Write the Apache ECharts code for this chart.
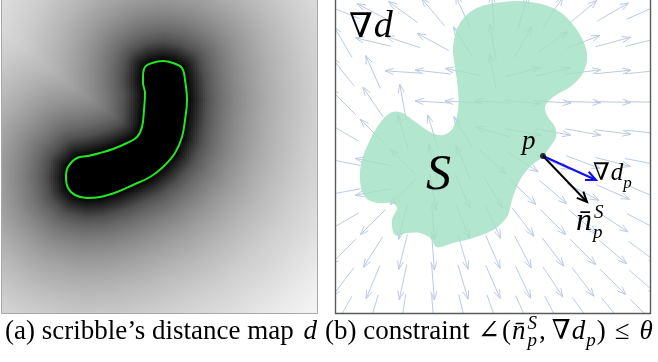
<!DOCTYPE html>
<html><head><meta charset="utf-8">
<script src="https://cdn.jsdelivr.net/npm/echarts@6/dist/echarts.min.js"></script>
<style>html,body{margin:0;padding:0;background:#fff}#c{width:658px;height:362px}</style>
</head><body><div id="c"></div>
<script>
// ---------- data ----------
// scribble outline (panel a, image px)
const scribbleX = [143,145,152,163,173,182,185,187,185,182,175,163,150,133,117,100,87,75,68,66,68,77,88,100,113,127,137,142,144,145,143];
const scribbleY = [77,67,63,61,63,68,80,100,120,137,153,167,177,185,192,197,198,195,188,177,167,158,156,153,149,143,137,127,110,93,83];
// region S outline (panel b, image px)
const regionX = [453,460,477,503,530,557,577,587,583,570,553,545,548,555,556,550,542,530,520,512,507,493,473,453,437,430,420,407,395,392,397,392,377,365,360,362,370,380,390,400,413,430,443,453,458,458,455];
const regionY = [47,23,8,2,2,10,30,53,73,87,97,107,117,127,137,147,157,167,180,200,217,230,238,243,247,238,233,233,235,220,208,203,203,197,180,160,140,123,113,112,120,132,135,128,110,90,67];
// grey ramp of the distance map: distance (px, step 10) -> grey level
const rampDist = [0,10,20,30,40,50,60,70,80,90,100,110,120,130,140,150,160,170,180,190,200,210,220];
const rampGray = [0,40,80,104,122,137,150,161,171,180,188,195,202,208,213,218,223,228,233,237,241,244,247];
// vector field sample centres (panel b)
const fieldCols = [343,373,403,433,463,493,523,553,583,613,643];
const fieldRows = [12,42,72,102,132,162,192,222,252,282,312];
// point p and its vectors
const pointP = [543,156];
const gradTip = [596,180];
const normalTip = [587,202];

// ---------- geometry helpers ----------
const PANEL_SHIFT = 334; // panel b x -> panel a x
function signedDist(px, py) {
  let d = Infinity, inside = false;
  const n = scribbleX.length;
  for (let i = 0, j = n - 1; i < n; j = i++) {
    const ax = scribbleX[j], ay = scribbleY[j], bx = scribbleX[i], by = scribbleY[i];
    const dx = bx - ax, dy = by - ay;
    let t = ((px - ax) * dx + (py - ay) * dy) / (dx * dx + dy * dy);
    t = Math.max(0, Math.min(1, t));
    const ex = ax + t * dx - px, ey = ay + t * dy - py;
    d = Math.min(d, Math.sqrt(ex * ex + ey * ey));
    if ((ay > py) !== (by > py) && px < (bx - ax) * (py - ay) / (by - ay) + ax) inside = !inside;
  }
  return inside ? -d : d;
}

// distance-map cells (2px)
const CELL = 2, NX = 158, NY = 157, X0 = 1, Y0 = 0;
const heat = [];
for (let i = 0; i < NX; i++) for (let j = 0; j < NY; j++) {
  const x = X0 + CELL * i, y = Y0 + CELL * j;
  heat.push([x, y, Math.max(0, signedDist(x + 1, y + 1))]);
}
const grayColors = rampGray.map(g => 'rgb(' + g + ',' + g + ',' + g + ')');

// arrows
const L = 36;
const arrows = [];
fieldCols.forEach(gx => fieldRows.forEach(gy => {
  const lx = gx - PANEL_SHIFT;
  const ddx = signedDist(lx + 1, gy) - signedDist(lx - 1, gy);
  const ddy = signedDist(lx, gy + 1) - signedDist(lx, gy - 1);
  const m = Math.hypot(ddx, ddy) || 1;
  const ux = ddx / m, uy = ddy / m;
  arrows.push([gx - ux * L / 2, gy - uy * L / 2, gx + ux * L / 2, gy + uy * L / 2]);
}));

function arrowItem(color, lw, hl, ha) {
  return function (params, api) {
    const t = api.coord([api.value(0), api.value(1)]);
    const h = api.coord([api.value(2), api.value(3)]);
    const a = Math.atan2(h[1] - t[1], h[0] - t[0]);
    const b1 = [h[0] - hl * Math.cos(a - ha), h[1] - hl * Math.sin(a - ha)];
    const b2 = [h[0] - hl * Math.cos(a + ha), h[1] - hl * Math.sin(a + ha)];
    return { type: 'group', children: [
      { type: 'line', shape: { x1: t[0], y1: t[1], x2: h[0], y2: h[1] }, style: { stroke: color, lineWidth: lw } },
      { type: 'polyline', shape: { points: [b1, h, b2] }, style: { stroke: color, lineWidth: lw, fill: null } }
    ] };
  };
}

// ---------- text layout ----------
const FAM = '"Liberation Serif","DejaVu Serif",serif';
const mctx = document.createElement('canvas').getContext('2d');
function fnt(sz, it) { return (it ? 'italic ' : '') + sz + 'px ' + FAM; }
function run(x0, base, pieces, color) {
  let x = x0; const out = [];
  pieces.forEach(p => {
    const [t, sz, it, dy = 0, adv = true, dx = 0] = p;
    mctx.font = fnt(sz, it);
    const w = mctx.measureText(t).width;
    out.push({ type: 'text', z: 100, x: x + dx, y: base + dy - 0.34 * sz,
      style: { text: t, font: fnt(sz, it), fill: color || '#000', align: 'left', verticalAlign: 'middle' } });
    if (adv) x += w + dx;
  });
  return out;
}
const CAP = 27;
const texts = [].concat(
  run(349, 40, [['\u2207', 34, false], ['d', 38, true, 0, true, 1]]),
  run(426, 193, [['S', 50, true]]),
  run(522, 151, [['p', 27, true]]),
  run(593, 182, [['\u2207', 24, false], ['d', 25, true, 0, true, 1], ['p', 17, true, 7]]),
  run(576, 232, [['n\u0304', 32, true], ['S', 19, true, -13, false, 2], ['p', 19, true, 7, true, 1]]),
  run(5, 341, [['(a) scribble\u2019s distance map ', CAP, false], ['d', CAP, true, 0, true, 3]]),
  run(325, 341, [['(b) constraint ', CAP, false], ['\u2220', CAP, false, 0, true, 1], ['(', CAP, false, 0, true, 2],
                 ['n\u0304', CAP, true, 0, true, 1], ['S', 19, true, -11, false, 2], ['p', 19, true, 6, true, 2],
                 [',', CAP, false, 0, true, 2], ['\u2207', CAP, false, 0, true, 6], ['d', CAP, true, 0, true, 1], ['p', 19, true, 6, true, 1],
                 [')', CAP, false, 0, true, 1], ['\u2264', CAP, false, 0, true, 9], ['\u03b8', CAP, true, 0, true, 10]])
);

// ---------- chart ----------
const chart = echarts.init(document.getElementById('c'), null, { renderer: 'canvas' });
const hide = { show: false };
const ax = (g, min, max, inv) => ({ type: 'value', gridIndex: g, min: min, max: max, inverse: !!inv,
  axisLine: hide, axisTick: hide, axisLabel: hide, splitLine: hide });
chart.setOption({
  animation: false,
  backgroundColor: '#fff',
  grid: [
    { left: 1, top: 0, width: 316, height: 313 },
    { left: 335, top: 0, width: 315, height: 313 }
  ],
  xAxis: [ax(0, 1, 317), ax(1, 335, 650)],
  yAxis: [ax(0, 0, 313, true), ax(1, 0, 313, true)],
  visualMap: { type: 'continuous', show: false, seriesIndex: 0, dimension: 2, min: 0, max: 220, inRange: { color: grayColors } },
  series: [
    { type: 'custom', xAxisIndex: 0, yAxisIndex: 0, data: heat, progressive: 0, z: 1, clip: true,
      renderItem: function (params, api) {
        const p = api.coord([api.value(0), api.value(1)]);
        const s = api.size([CELL, CELL]);
        return { type: 'rect', shape: { x: Math.round(p[0]), y: Math.round(p[1]), width: Math.round(s[0]) + 1, height: Math.round(s[1]) + 1 },
          style: { fill: api.visual('color') } };
      } },
    { type: 'line', xAxisIndex: 0, yAxisIndex: 0, smooth: 0.4, symbol: 'none', z: 5,
      data: scribbleX.concat([scribbleX[0]]).map((x, i) => [x, scribbleY.concat([scribbleY[0]])[i]]),
      lineStyle: { color: '#22e622', width: 2 } },
    { type: 'custom', xAxisIndex: 1, yAxisIndex: 1, clip: true, z: 3, data: arrows,
      renderItem: arrowItem('#bccbe2', 1, 9, 0.35) },
    { type: 'custom', xAxisIndex: 1, yAxisIndex: 1, clip: true, z: 4, data: [[0]],
      renderItem: function (params, api) {
        const pts = regionX.map((x, i) => api.coord([x, regionY[i]]));
        return { type: 'polygon', shape: { points: pts, smooth: 0.35 }, style: { fill: '#a0e0c3', opacity: 0.8 } };
      } },
    { type: 'custom', xAxisIndex: 1, yAxisIndex: 1, z: 6, data: [pointP.concat(normalTip)],
      renderItem: arrowItem('#000', 2, 11, 0.42) },
    { type: 'custom', xAxisIndex: 1, yAxisIndex: 1, z: 6, data: [pointP.concat(gradTip)],
      renderItem: arrowItem('#1010ee', 2, 11, 0.42) },
    { type: 'scatter', xAxisIndex: 1, yAxisIndex: 1, z: 7, data: [pointP], symbolSize: 6, itemStyle: { color: '#000' } }
  ],
  graphic: [
    { type: 'rect', z: 90, shape: { x: 1.5, y: -2, width: 316, height: 315.5 }, style: { stroke: '#a8a8a8', fill: null, lineWidth: 1 } },
    { type: 'rect', z: 90, shape: { x: 335.5, y: -2, width: 315, height: 315.5 }, style: { stroke: '#5a5a5a', fill: null, lineWidth: 1.4 } }
  ].concat(texts)
});
</script></body></html>
